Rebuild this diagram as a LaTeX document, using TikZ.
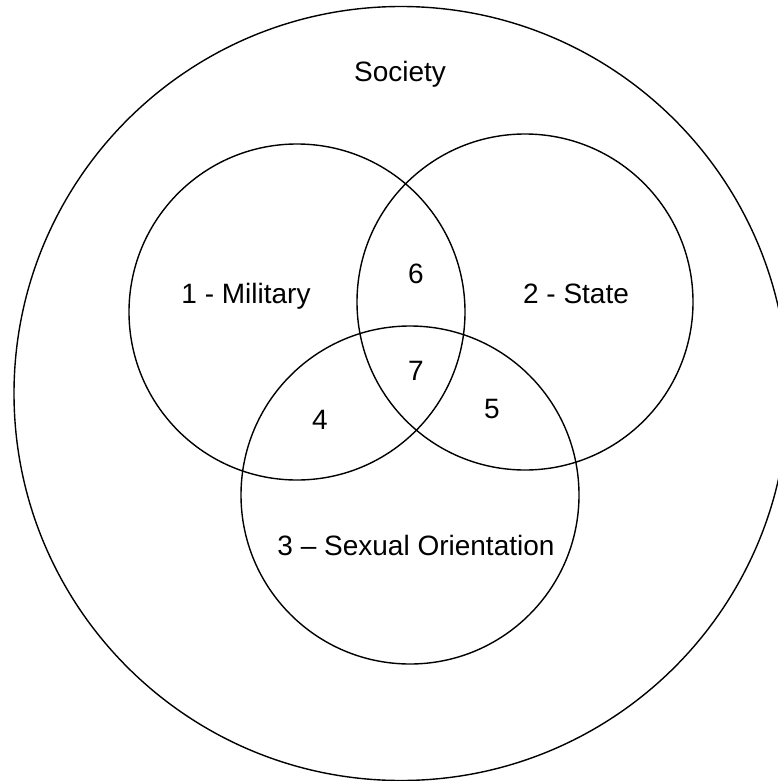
\documentclass[tikz,border=0pt]{standalone}
\usepackage{fontspec}
\setmainfont{Liberation Sans}
\begin{document}
\begin{tikzpicture}[x=1pt,y=-1pt,
  ring/.style={line width=1.4pt},
  lbl/.style={anchor=base,inner sep=0pt,font=\fontsize{28}{34}\selectfont}]
%
% Venn-Diagramm: drei Bereiche innerhalb der Gesellschaft
% (Koordinaten in Pixeln, y nach unten)
%
\useasboundingbox (0,0) rectangle (778,781);
\clip (0,0) rectangle (778,781);
% --- Gesellschaft (aussen) ---
\draw[ring] (401,393.5) circle (387pt);
\node[lbl] (society) at (400,82) {Society};
% --- drei Kreise ---
\draw[ring] (297,312) circle (168pt);
\draw[ring] (525,302) circle (168pt);
\draw[ring] (410,495) circle (169pt);
% Namen der Kreise
\node[lbl] (military) at (246,303) {1 - Military};
\node[lbl] (state) at (576,303) {2 - State};
\node[lbl] (sexor) at (416,555) {3 -- Sexual Orientation};
% Schnittmengen
\node[lbl] (n6) at (416,283) {6};
\node[lbl] (n7) at (416,380) {7};
\node[lbl] (n4) at (320,429) {4};
\node[lbl] (n5) at (492,418) {5};
\end{tikzpicture}
\end{document}
